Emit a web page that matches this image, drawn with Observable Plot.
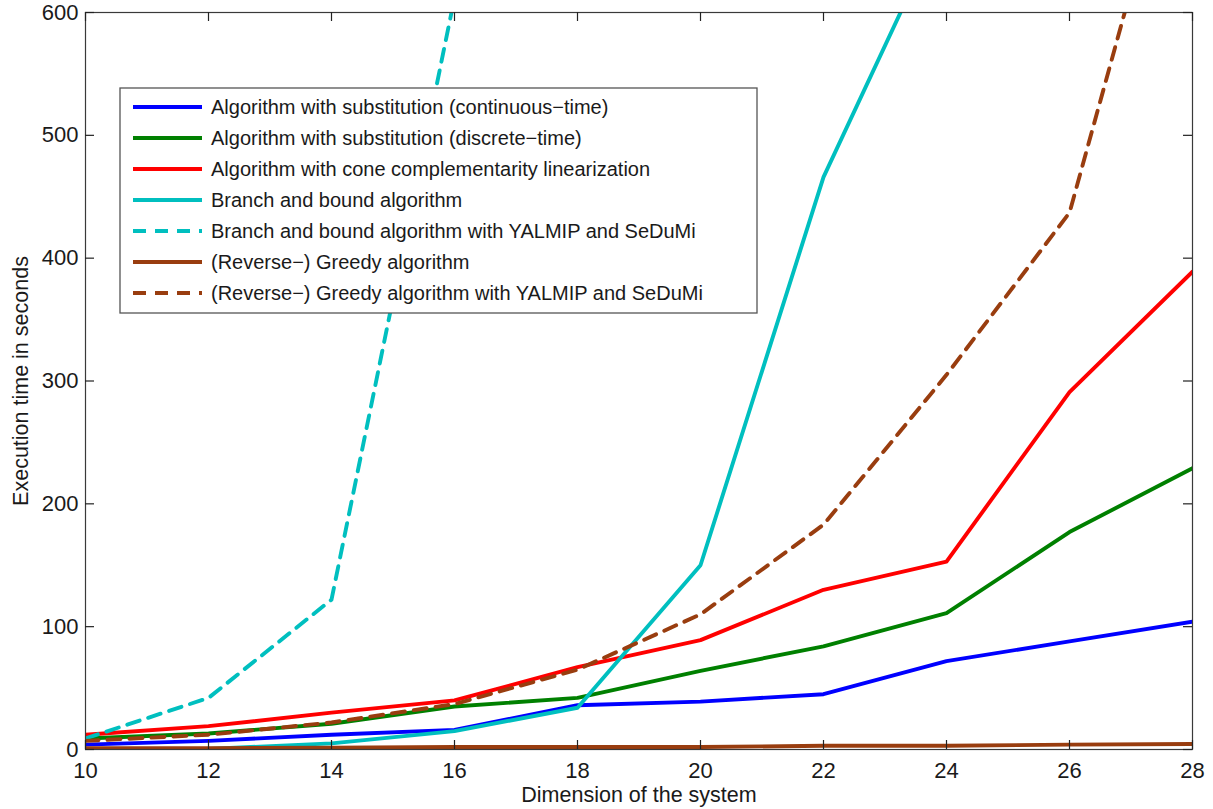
<!DOCTYPE html>
<html>
<head>
<meta charset="utf-8">
<script src="https://cdn.jsdelivr.net/npm/d3@7"></script>
<script src="https://cdn.jsdelivr.net/npm/@observablehq/plot@0.6"></script>
<style>
  html, body { margin: 0; padding: 0; background: #fff; }
  #chart { position: relative; width: 1213px; height: 809px; }
  svg { font-family: "Liberation Sans", Arial, sans-serif; }
</style>
</head>
<body>
<div id="chart"></div>
<script>
// ---- data ----
const dims = [10, 12, 14, 16, 18, 20, 22, 24, 26, 28];
const substContinuous = [4, 7, 12, 16, 36, 39, 45, 72, 88, 104];
const substDiscrete   = [9, 13, 21, 35, 42, 64, 84, 111, 177, 229];
const coneLinear      = [12, 19, 30, 40, 67, 89, 130, 153, 291, 389];
const branchBound     = [0.5, 0.5, 5, 15, 34, 150, 466, 680];
const branchBoundYalmip = [9, 42, 122, 612];
const greedy          = [1, 1, 1.5, 2, 2, 2, 3, 3, 4, 4.5];
const greedyYalmip    = [7, 12, 22, 37, 65, 110, 183, 305, 437, 800];

const seriesNames = [
  "Algorithm with substitution (continuous\u2212time)",
  "Algorithm with substitution (discrete\u2212time)",
  "Algorithm with cone complementarity linearization",
  "Branch and bound algorithm",
  "Branch and bound algorithm with YALMIP and SeDuMi",
  "(Reverse\u2212) Greedy algorithm",
  "(Reverse\u2212) Greedy algorithm with YALMIP and SeDuMi"
];
const seriesValues = [substContinuous, substDiscrete, coneLinear, branchBound, branchBoundYalmip, greedy, greedyYalmip];
const seriesColors = ["#0000ff", "#008000", "#ff0000", "#00bfbf", "#00bfbf", "#993d0f", "#993d0f"];
const seriesDashed = [false, false, false, false, true, false, true];

const xTicks = [10, 12, 14, 16, 18, 20, 22, 24, 26, 28];
const yTicks = [0, 100, 200, 300, 400, 500, 600];

const xLabel = "Dimension of the system";
const yLabel = "Execution time in seconds";

// ---- build ----
const W = 1213, H = 809;
const mL = 85, mR = 21, mT = 12, mB = 60;
const fw = W - mL - mR, fh = H - mT - mB;
const tickLen = 9;
const fontSize = 20;
const tickFont = 22;
const labelFont = 21.5;
const ink = "#1a1a1a";

const series = seriesNames.map((name, i) => ({
  name,
  color: seriesColors[i],
  dashed: seriesDashed[i],
  points: seriesValues[i].map((v, j) => ({x: dims[j], y: v}))
}));

const lineMarks = series.map(s => Plot.line(s.points, {
  x: "x", y: "y",
  stroke: s.color,
  strokeWidth: 3.9,
  strokeDasharray: s.dashed ? "13,9" : null,
  strokeLinejoin: "round",
  clip: true
}));

const plot = Plot.plot({
  width: W, height: H,
  marginLeft: mL, marginRight: mR, marginTop: mT, marginBottom: mB,
  style: {fontSize: fontSize + "px", fontFamily: '"Liberation Sans", Arial, sans-serif', color: ink, background: "#fff"},
  x: {domain: [10, 28]},
  y: {domain: [0, 600]},
  marks: [
    ...lineMarks,
    Plot.frame({stroke: "#3a3a3a", strokeWidth: 1.2}),
    Plot.tickX(xTicks, {x: d => d, insetTop: fh - tickLen, stroke: "#222", strokeWidth: 1.2}),
    Plot.tickX(xTicks, {x: d => d, insetBottom: fh - tickLen, stroke: "#222", strokeWidth: 1.2}),
    Plot.tickY(yTicks, {y: d => d, insetRight: fw - tickLen, stroke: "#222", strokeWidth: 1.2}),
    Plot.tickY(yTicks, {y: d => d, insetLeft: fw - tickLen, stroke: "#222", strokeWidth: 1.2}),
    Plot.axisX({ticks: xTicks, tickSize: 0, tickPadding: 13, label: null, fontSize: tickFont, fill: ink}),
    Plot.axisY({ticks: yTicks, tickSize: 0, tickPadding: 7, label: null, fontSize: tickFont, fill: ink}),
    Plot.text([xLabel], {text: d => d, frameAnchor: "bottom", dy: 52, textAnchor: "middle", fontSize: labelFont, fill: ink}),
    Plot.text([yLabel], {text: d => d, frameAnchor: "left", dx: -64, rotate: -90, textAnchor: "middle", fontSize: labelFont, fill: ink})
  ]
});

document.getElementById("chart").appendChild(plot);

// ---- legend (inside the plot, top-left) ----
const svg = d3.select(plot);
const lg = svg.append("g").attr("class", "legend").attr("transform", "translate(120,88)")
  .attr("text-anchor", "start");
const lgW = 637, lgH = 225, rowH = 31, row0 = 19;
lg.append("rect").attr("x", 0).attr("y", 0).attr("width", lgW).attr("height", lgH)
  .attr("fill", "#fff").attr("stroke", "#555").attr("stroke-width", 1.3);
series.forEach((s, i) => {
  const cy = row0 + i * rowH;
  lg.append("line").attr("x1", 13).attr("x2", 82).attr("y1", cy).attr("y2", cy)
    .attr("stroke", s.color).attr("stroke-width", 3.9)
    .attr("stroke-dasharray", s.dashed ? "13,9" : null);
  lg.append("text").attr("x", 91).attr("y", cy).attr("dy", "0.35em")
    .attr("text-anchor", "start")
    .attr("font-size", fontSize).attr("fill", ink).text(s.name);
});
</script>
</body>
</html>
